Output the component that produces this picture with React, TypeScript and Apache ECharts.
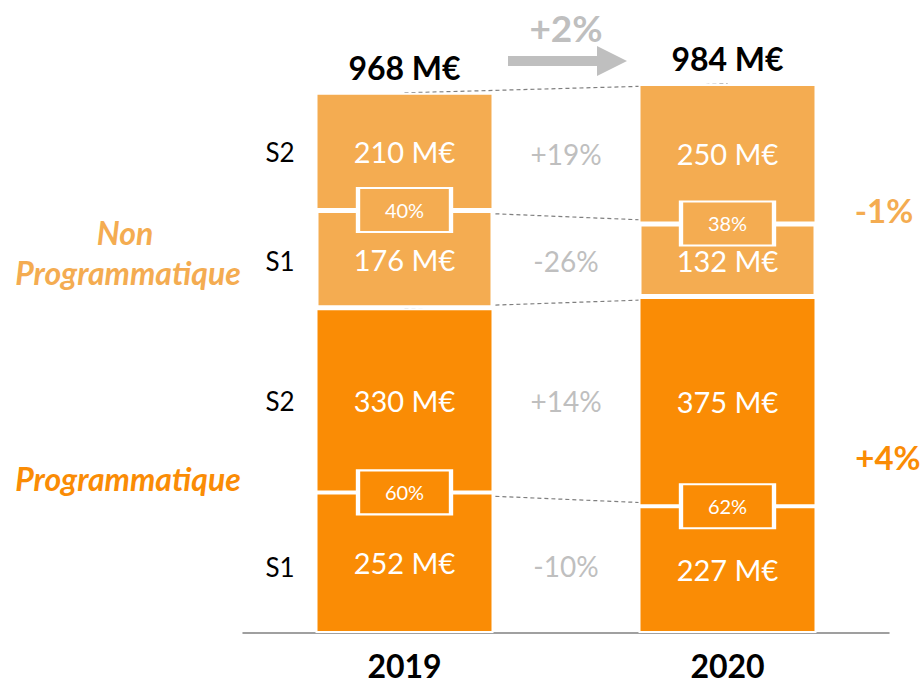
import React, { useEffect, useRef } from "react";
import * as echarts from "echarts";

const years = ["2019", "2020"];
const progS1 = [252, 227];
const progS2 = [330, 375];
const nonProgS1 = [176, 132];
const nonProgS2 = [210, 250];
const progShare = ["60%", "62%"];
const nonProgShare = ["40%", "38%"];
const changeProgS1 = "-10%";
const changeProgS2 = "+14%";
const changeNonProgS1 = "-26%";
const changeNonProgS2 = "+19%";
const changeTotal = "+2%";
const changeNonProg = "-1%";
const changeProg = "+4%";

const DARK = "#FA8C05";
const LIGHT = "#F4AC51";
const GRAY = "#BFBFBF";
const FONT = "Lato";

export default function App() {
  const ref = useRef<HTMLDivElement>(null);
  useEffect(() => {
    document.body.style.margin = "0";
    const chart = echarts.init(ref.current!, null, { renderer: "svg" });
    const sum = (...arrs: number[][]) => arrs[0].map((_, i) => arrs.reduce((s, a) => s + a[i], 0));
    const lvlProgSplit = progS1;
    const lvlProgTop = sum(progS1, progS2);
    const lvlNpSplit = sum(progS1, progS2, nonProgS1);
    const totals = sum(progS1, progS2, nonProgS1, nonProgS2);

    const barLabel = {
      show: true,
      position: "inside",
      color: "#fff",
      fontSize: 29,
      fontFamily: FONT,
      formatter: "{c} M€",
    };
    const bar = (name: string, data: number[], color: string, bw: number) => ({
      name,
      type: "bar",
      stack: "total",
      barWidth: 178,
      data,
      z: 2,
      itemStyle: { color, borderColor: "#fff", borderWidth: bw },
      label: barLabel,
      silent: true,
    });
    const dashed = (data: number[]) => ({
      type: "line",
      data,
      z: 1,
      symbol: "none",
      silent: true,
      lineStyle: { color: "#7F7F7F", width: 1.2, type: [4, 3] },
    });
    const box = (data: number[], labels: string[], color: string) => ({
      type: "scatter",
      z: 5,
      silent: true,
      symbol: "rect",
      symbolSize: [93, 44],
      data: data.map((v, i) => [i, v]),
      itemStyle: { color, borderColor: "#fff", borderWidth: 3, opacity: 1 },
      label: {
        show: true,
        position: "inside",
        color: "#fff",
        fontSize: 20,
        fontFamily: FONT,
        formatter: (p: any) => labels[p.dataIndex],
      },
    });

    const option: any = {
      animation: false,
      grid: { left: 243, right: 35, top: 75, bottom: 51 },
      xAxis: {
        type: "category",
        data: years,
        axisLine: { lineStyle: { color: "#808080", width: 1.5 } },
        axisTick: { show: false },
        axisLabel: { color: "#000", fontSize: 32, fontWeight: "bold", fontFamily: FONT, margin: 16 },
      },
      yAxis: { type: "value", min: 0, max: 1000, show: false, splitLine: { show: false } },
      series: [
        bar("Programmatique S1", progS1, DARK, 2),
        bar("Programmatique S2", progS2, DARK, 2),
        bar("Non Programmatique S1", nonProgS1, LIGHT, 3),
        bar("Non Programmatique S2", nonProgS2, LIGHT, 2),
        dashed(lvlProgSplit),
        dashed(lvlProgTop),
        dashed(lvlNpSplit),
        dashed(totals),
        box(lvlProgSplit, progShare, DARK),
        box(lvlNpSplit, nonProgShare, LIGHT),
      ],
    };
    chart.setOption(option);

    const px = (i: number, v: number) => chart.convertToPixel({ gridIndex: 0 }, [i, v]) as number[];
    const midX = (px(0, 0)[0] + px(1, 0)[0]) / 2;
    const segCenter = (base: number[], vals: number[], i: number) => px(i, base[i] + vals[i] / 2)[1];
    const avgCenter = (base: number[], vals: number[]) => (segCenter(base, vals, 0) + segCenter(base, vals, 1)) / 2;
    const zero = [0, 0];

    const txt = (text: string, x: number, y: number, style: any) => ({
      type: "text",
      x,
      y,
      silent: true,
      style: { text, textAlign: "center", textVerticalAlign: "middle", fontFamily: FONT, ...style },
    });
    const grayStyle = { fill: GRAY, fontSize: 28 };
    const sStyle = { fill: "#000", fontSize: 26 };
    const sX = 280;
    const groupStyle = { fontSize: 32, fontWeight: "bold", fontStyle: "italic" };

    const graphic: any[] = [
      ...totals.map((t, i) => {
        const p = px(i, t);
        return txt(`${t} M€`, p[0], p[1] - 25, { fill: "#000", fontSize: 32, fontWeight: "bold" });
      }),
      txt(changeNonProgS2, midX, avgCenter(lvlNpSplit, nonProgS2) + 1, grayStyle),
      txt(changeNonProgS1, midX, avgCenter(lvlProgTop, nonProgS1) + 1, grayStyle),
      txt(changeProgS2, midX, avgCenter(lvlProgSplit, progS2), grayStyle),
      txt(changeProgS1, midX, avgCenter(zero, progS1), grayStyle),
      txt("S2", sX, segCenter(lvlNpSplit, nonProgS2, 0) + 1, sStyle),
      txt("S1", sX, segCenter(lvlProgTop, nonProgS1, 0) + 2, sStyle),
      txt("S2", sX, segCenter(lvlProgSplit, progS2, 0) + 1, sStyle),
      txt("S1", sX, segCenter(zero, progS1, 0) + 4, sStyle),
      txt("Non", 125, 232, { fill: LIGHT, ...groupStyle }),
      txt("Programmatique", 128, 272, { fill: LIGHT, ...groupStyle }),
      txt("Programmatique", 128, 478, { fill: DARK, ...groupStyle }),
      txt(changeNonProg, 884, 210, { fill: LIGHT, fontSize: 33, fontWeight: "bold" }),
      txt(changeProg, 888, 457, { fill: DARK, fontSize: 33, fontWeight: "bold" }),
      txt(changeTotal, 566, 27, { fill: GRAY, fontSize: 37, fontWeight: "bold" }),
      {
        type: "polygon",
        silent: true,
        shape: {
          points: [
            [508, 56],
            [597, 56],
            [597, 46],
            [627, 61],
            [597, 76],
            [597, 66],
            [508, 66],
          ],
        },
        style: { fill: GRAY },
      },
    ];
    chart.setOption({ graphic });

    return () => chart.dispose();
  }, []);
  return <div ref={ref} style={{ width: 924, height: 684 }} />;
}
